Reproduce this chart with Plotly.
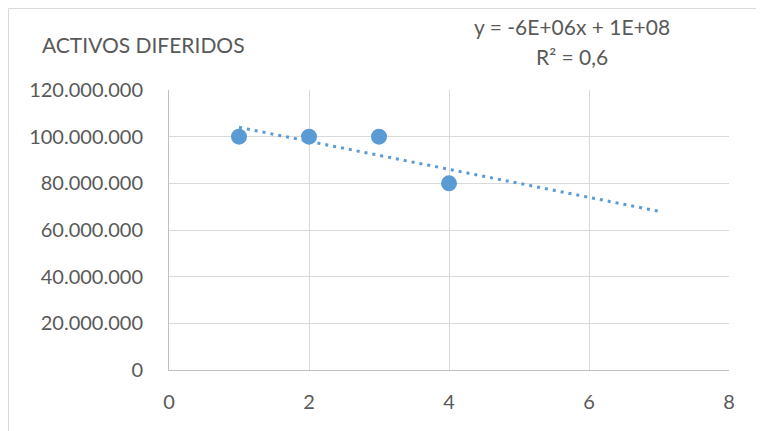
import numpy as np
import plotly.graph_objects as go

x_vals = [1, 2, 3, 4]
y_vals = [100_000_000, 100_000_000, 100_000_000, 80_000_000]
y_ticks = [0, 20_000_000, 40_000_000, 60_000_000, 80_000_000, 100_000_000, 120_000_000]
y_tick_labels = ["0", "20.000.000", "40.000.000", "60.000.000", "80.000.000", "100.000.000", "120.000.000"]
x_ticks = [0, 2, 4, 6, 8]
title_text = "ACTIVOS DIFERIDOS"
eq_text = "y = -6E+06x + 1E+08"
r2_text = "R² = 0,6"
trend_end = 7

color = "#5B9BD5"
font_family = "Lato, 'Open Sans', sans-serif"
font_color = "#595959"

slope, intercept = np.polyfit(x_vals, y_vals, 1)
tx = np.array([x_vals[0], trend_end], dtype=float)
ty = slope * tx + intercept

fig = go.Figure()
fig.add_trace(go.Scatter(x=tx, y=ty, mode="lines",
                         line=dict(color=color, width=3, dash="3px,5px"),
                         hoverinfo="skip", showlegend=False))
fig.add_trace(go.Scatter(x=x_vals, y=y_vals, mode="markers",
                         marker=dict(color=color, size=16, line=dict(width=0)),
                         showlegend=False))

OFF = 8  # default body margin of the html page
W, H = 764 - OFF, 431 - OFF
ml, mr, mt, mb = 169 - OFF, 35, 90 - OFF, 61
pw, ph = W - ml - mr, H - mt - mb

def px_to_paper_x(p):
    return (p - OFF - ml) / pw

def px_to_paper_y(p):
    return (H - mb - (p - OFF)) / ph

fig.add_shape(type="rect", xref="paper", yref="paper",
              x0=px_to_paper_x(8.5), x1=px_to_paper_x(762.5),
              y0=px_to_paper_y(445), y1=px_to_paper_y(8.5),
              line=dict(color="#d9d9d9", width=1), layer="below")

ann_font = dict(size=21, color=font_color, family=font_family)
fig.add_annotation(text=title_text, xref="paper", yref="paper",
                   x=px_to_paper_x(40), y=px_to_paper_y(45), xanchor="left", yanchor="middle",
                   showarrow=False, font=ann_font)
fig.add_annotation(text=eq_text, xref="paper", yref="paper",
                   x=px_to_paper_x(572), y=px_to_paper_y(27), xanchor="center", yanchor="middle",
                   showarrow=False, font=ann_font)
fig.add_annotation(text=r2_text, xref="paper", yref="paper",
                   x=px_to_paper_x(572), y=px_to_paper_y(56), xanchor="center", yanchor="middle",
                   showarrow=False, font=ann_font)

tick_font = dict(size=20, color=font_color, family=font_family)
fig.update_layout(
    width=W, height=H,
    margin=dict(l=ml, r=mr, t=mt, b=mb, pad=0),
    paper_bgcolor="white", plot_bgcolor="white",
    font=dict(family=font_family, color=font_color, size=20),
    xaxis=dict(range=[0, 8], tickvals=x_ticks, ticktext=[str(v) for v in x_ticks],
               showgrid=True, gridcolor="#d9d9d9", gridwidth=1,
               showline=True, linecolor="#bfbfbf", linewidth=1, mirror=False,
               zeroline=False, ticks="", ticklen=0, fixedrange=True,
               ticklabelstandoff=14, tickfont=tick_font),
    yaxis=dict(range=[0, 120_000_000], tickvals=y_ticks, ticktext=y_tick_labels,
               showgrid=True, gridcolor="#d9d9d9", gridwidth=1,
               showline=True, linecolor="#bfbfbf", linewidth=1,
               zeroline=False, ticks="", ticklen=0, fixedrange=True,
               ticklabelstandoff=21, tickfont=tick_font),
)

fig.write_html("out.html")
